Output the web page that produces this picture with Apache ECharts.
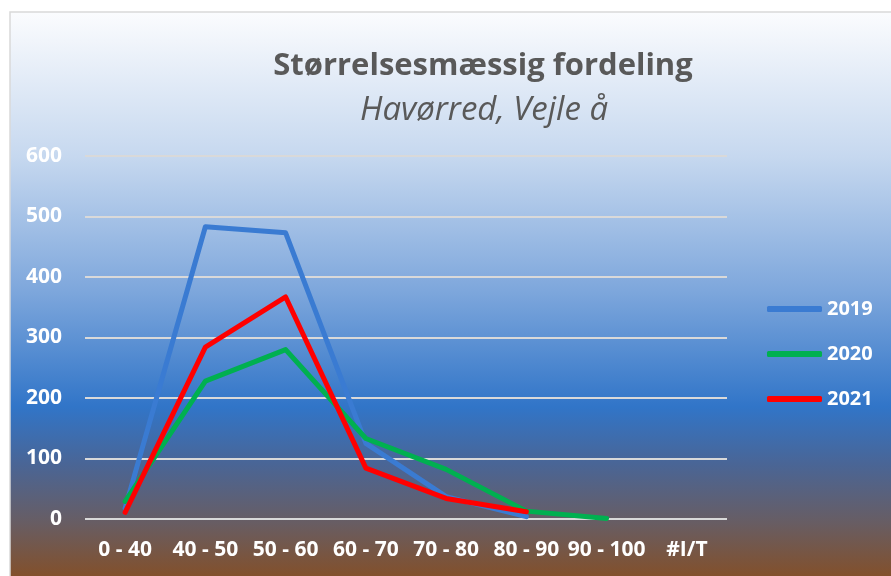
<!DOCTYPE html>
<html>
<head>
<meta charset="utf-8">
<script src="https://cdn.jsdelivr.net/npm/echarts@6/dist/echarts.min.js"></script>
<style>
html,body{margin:0;padding:0;background:#ffffff;}
#chart{width:891px;height:576px;}
</style>
</head>
<body>
<div id="chart"></div>
<script>
const categories = ['0 - 40', '40 - 50', '50 - 60', '60 - 70', '70 - 80', '80 - 90', '90 - 100', '#I/T'];
const values2019 = [18, 483, 473, 125, 37, 4, null, null];
const values2020 = [29, 228, 280, 133, 82, 13, 1, null];
const values2021 = [11, 284, 367, 84, 34, 12, null, null];
const yTicks = [0, 100, 200, 300, 400, 500, 600];
const titleText = 'Størrelsesmæssig fordeling';
const subtitleText = 'Havørred, Vejle å';

const FONT = '"Open Sans", "Noto Sans", sans-serif';
const chart = echarts.init(document.getElementById('chart'), null, {renderer: 'canvas'});

function mkSeries(name, data, color) {
  return {
    name: name, type: 'line', data: data, symbol: 'none', connectNulls: false,
    lineStyle: {color: color, width: 5, cap: 'round', join: 'round'},
    itemStyle: {color: color}
  };
}

chart.setOption({
  animation: false,
  graphic: [
    {
      type: 'rect', z: -10,
      shape: {x: 10, y: 12, width: 900, height: 580},
      style: {
        fill: new echarts.graphic.LinearGradient(0, 0, 0, 1, [
          {offset: 0, color: '#fbfcfe'},
          {offset: 0.05, color: '#f1f5fb'},
          {offset: 0.25, color: '#c6d8ef'},
          {offset: 0.48, color: '#7ea7dc'},
          {offset: 0.68, color: '#3175c8'},
          {offset: 0.78, color: '#4a6595'},
          {offset: 0.88, color: '#685d63'},
          {offset: 1, color: '#8b4c1a'}
        ]),
        stroke: '#d9d9d9', lineWidth: 1.5
      }
    }
  ],
  title: [
    {
      text: titleText, left: 478, top: 46, textAlign: 'center',
      textStyle: {fontFamily: FONT, fontWeight: 'bold', fontSize: 31, color: '#595959'}
    },
    {
      text: subtitleText, left: 479, top: 89, textAlign: 'center',
      textStyle: {fontFamily: FONT, fontStyle: 'italic', fontWeight: 'normal', fontSize: 33, color: '#595959'}
    }
  ],
  legend: {
    orient: 'vertical', left: 762, top: 294,
    itemWidth: 55, itemHeight: 6, itemGap: 25,
    icon: 'roundRect',
    data: ['2019', '2020', '2021'],
    textStyle: {fontFamily: FONT, fontWeight: 'bold', fontSize: 20, color: '#ffffff'}
  },
  grid: {left: 85, right: 164, top: 156, bottom: 57, containLabel: false},
  xAxis: {
    type: 'category', data: categories, boundaryGap: true,
    axisLine: {show: false}, axisTick: {show: false},
    axisLabel: {fontFamily: FONT, fontWeight: 'bold', fontSize: 21, color: '#ffffff', margin: 21, interval: 0}
  },
  yAxis: {
    type: 'value', min: yTicks[0], max: yTicks[yTicks.length - 1], interval: 100,
    axisLine: {show: false}, axisTick: {show: false},
    splitLine: {lineStyle: {color: '#d9d9d9', width: 2}},
    axisLabel: {fontFamily: FONT, fontWeight: 'bold', fontSize: 21, color: '#ffffff', margin: 23}
  },
  series: [
    mkSeries('2019', values2019, '#3a7bd2'),
    mkSeries('2020', values2020, '#00b050'),
    mkSeries('2021', values2021, '#ff0000')
  ]
});
</script>
</body>
</html>
